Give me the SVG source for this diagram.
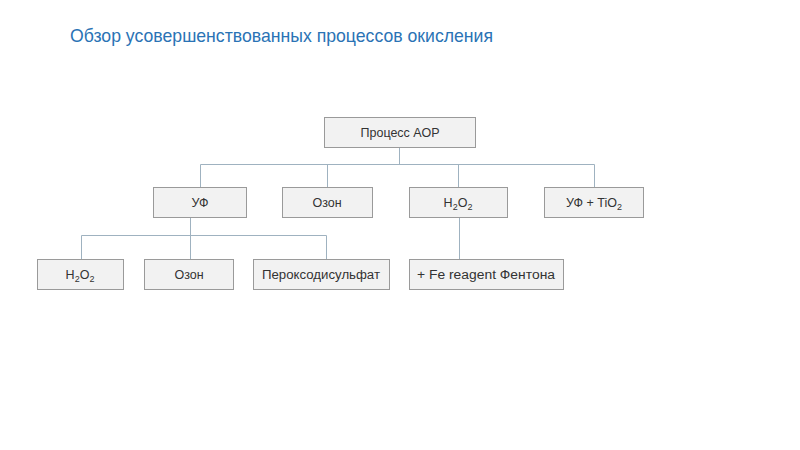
<svg xmlns="http://www.w3.org/2000/svg" width="800" height="450" viewBox="0 0 800 450">
<style>
.box{fill:#f2f2f2;stroke:#9a9a9a;stroke-width:1}
.lbl{font-family:"Liberation Sans",Arial,sans-serif;font-size:12.5px;fill:#333;text-anchor:middle}
.sub{font-size:9px}
.conn{fill:none;stroke:#9fb2c0;stroke-width:1}
</style>
<rect width="800" height="450" fill="#ffffff"/>
<text x="70" y="42" font-family="'Liberation Sans',Arial,sans-serif" font-size="19" fill="#2a73b5" textLength="423" lengthAdjust="spacingAndGlyphs">Обзор усовершенствованных процессов окисления</text>
<g id="connectors">
<path class="conn" d="M399.5,147 V164.5 M200.5,164.5 H594.5 M200.5,164.5 V187 M327.5,164.5 V187 M458.5,164.5 V187 M594.5,164.5 V187"/>
<path class="conn" d="M190.5,217 V235.5 M81.5,235.5 H326.5 M81.5,235.5 V259 M190.5,235.5 V259 M326.5,235.5 V259"/>
<path class="conn" d="M459.5,217 V259"/>
</g>
<g id="aop"><rect class="box" x="324.5" y="117.5" width="151" height="30"/><text class="lbl" x="400" y="137">Процесс АОР</text></g>
<g id="uf"><rect class="box" x="153.5" y="187.5" width="93" height="30"/><text class="lbl" x="200" y="207">УФ</text></g>
<g id="ozone"><rect class="box" x="282.5" y="187.5" width="90" height="30"/><text class="lbl" x="327" y="207">Озон</text></g>
<g id="h2o2"><rect class="box" x="409.5" y="187.5" width="98" height="30"/><text class="lbl" x="458" y="207">H<tspan class="sub" dy="3">2</tspan><tspan dy="-3">O</tspan><tspan class="sub" dy="3">2</tspan></text></g>
<g id="uftio2"><rect class="box" x="544.5" y="187.5" width="99" height="30"/><text class="lbl" x="594" y="207">УФ + TiO<tspan class="sub" dy="3">2</tspan></text></g>
<g id="uf-h2o2"><rect class="box" x="37.5" y="259.5" width="86" height="30"/><text class="lbl" x="80" y="279">H<tspan class="sub" dy="3">2</tspan><tspan dy="-3">O</tspan><tspan class="sub" dy="3">2</tspan></text></g>
<g id="uf-ozone"><rect class="box" x="144.5" y="259.5" width="89" height="30"/><text class="lbl" x="189" y="279">Озон</text></g>
<g id="uf-peroxo"><rect class="box" x="253.5" y="259.5" width="136" height="30"/><text class="lbl" x="321" y="279" textLength="118" lengthAdjust="spacingAndGlyphs">Пероксодисульфат</text></g>
<g id="fenton"><rect class="box" x="409.5" y="259.5" width="154" height="30"/><text class="lbl" x="486" y="279" textLength="138" lengthAdjust="spacingAndGlyphs">+ Fe reagent Фентона</text></g>
</svg>
